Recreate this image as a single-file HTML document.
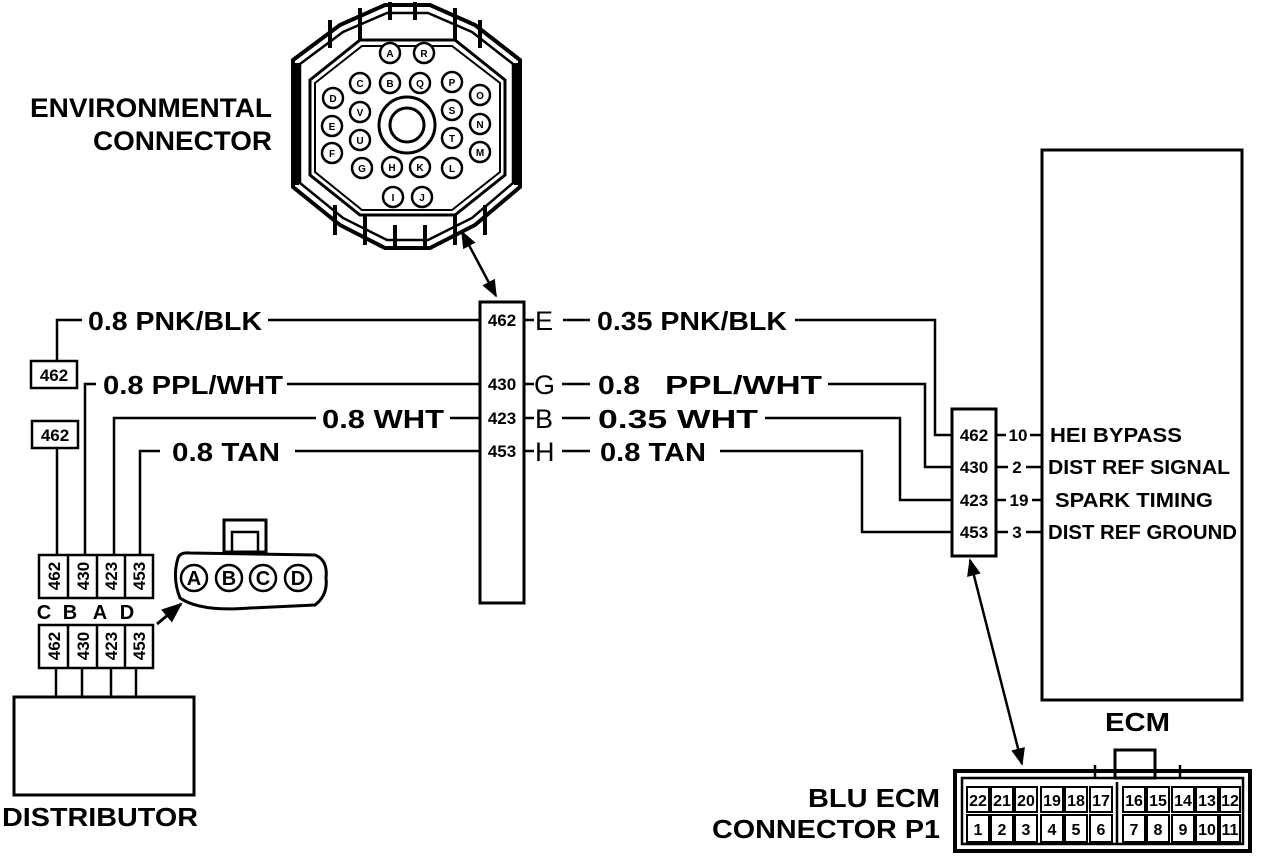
<!DOCTYPE html>
<html><head><meta charset="utf-8"><style>
html,body{margin:0;padding:0;background:#fff;}
svg{display:block;}
text{font-family:"Liberation Sans",Arial,sans-serif;font-weight:bold;fill:#000;}
</style></head><body>
<svg width="1280" height="856" viewBox="0 0 1280 856" xmlns="http://www.w3.org/2000/svg">
<defs>
<marker id="ah" viewBox="0 0 10 10" refX="9" refY="5" markerWidth="7" markerHeight="7" orient="auto-start-reverse"><path d="M0,1 L10,5 L0,9 z" fill="#000"/></marker>
</defs>
<g fill="none" stroke="#000" stroke-width="3">
<polygon points="293,60 340,25 385,5 430,5 475,25 520,60 520,187 475,225 430,248 385,248 340,225 293,187" stroke-width="4"/>
<polygon points="300,64 343,32 387,13 428,13 472,32 513,64 513,183 472,218 428,240 387,240 343,218 300,183" stroke-width="2.5"/>
<polygon points="310,80 360,40 455,40 505,80 505,175 455,215 360,215 310,175" stroke-width="3"/>
<polygon points="315,83 362,46 452,46 500,83 500,172 452,210 362,210 315,172" stroke-width="2"/>
<g stroke-width="4">
<line x1="297" y1="63" x2="297" y2="185"/><line x1="516" y1="63" x2="516" y2="185"/>
<line x1="330" y1="20" x2="330" y2="48"/><line x1="360" y1="8" x2="360" y2="40"/><line x1="390" y1="2" x2="390" y2="20"/><line x1="415" y1="2" x2="415" y2="20"/><line x1="455" y1="8" x2="455" y2="40"/><line x1="480" y1="20" x2="480" y2="48"/>
<line x1="335" y1="205" x2="335" y2="235"/><line x1="365" y1="215" x2="365" y2="245"/><line x1="395" y1="225" x2="395" y2="250"/><line x1="425" y1="225" x2="425" y2="250"/><line x1="455" y1="215" x2="455" y2="245"/><line x1="485" y1="205" x2="485" y2="235"/>
</g>
<circle cx="407" cy="125" r="28"/><circle cx="407" cy="125" r="17"/>
</g>
<g fill="#fff" stroke="#000" stroke-width="2.5">
<circle cx="390" cy="53" r="10"/><circle cx="424" cy="53" r="10"/>
<circle cx="360" cy="83" r="10"/><circle cx="390" cy="83" r="10"/><circle cx="420" cy="83" r="10"/><circle cx="452" cy="82" r="10"/>
<circle cx="333" cy="98" r="10"/><circle cx="480" cy="95" r="10"/>
<circle cx="360" cy="112" r="10"/><circle cx="452" cy="110" r="10"/>
<circle cx="332" cy="126" r="10"/><circle cx="480" cy="124" r="10"/>
<circle cx="360" cy="140" r="10"/><circle cx="452" cy="138" r="10"/>
<circle cx="332" cy="153" r="10"/><circle cx="480" cy="152" r="10"/>
<circle cx="362" cy="168" r="10"/><circle cx="392" cy="167" r="10"/><circle cx="420" cy="167" r="10"/><circle cx="452" cy="168" r="10"/>
<circle cx="393" cy="197" r="10"/><circle cx="422" cy="197" r="10"/>
</g>
<g font-size="10" text-anchor="middle">
<text x="390" y="57">A</text><text x="424" y="57">R</text>
<text x="360" y="87">C</text><text x="390" y="87">B</text><text x="420" y="87">Q</text><text x="452" y="86">P</text>
<text x="333" y="102">D</text><text x="480" y="99">O</text>
<text x="360" y="116">V</text><text x="452" y="114">S</text>
<text x="332" y="130">E</text><text x="480" y="128">N</text>
<text x="360" y="144">U</text><text x="452" y="142">T</text>
<text x="332" y="157">F</text><text x="480" y="156">M</text>
<text x="362" y="172">G</text><text x="392" y="171">H</text><text x="420" y="171">K</text><text x="452" y="172">L</text>
<text x="393" y="201">I</text><text x="422" y="201">J</text>
</g>
<text x="30" y="117" font-size="27" textLength="242" lengthAdjust="spacingAndGlyphs">ENVIRONMENTAL</text>
<text x="93" y="150" font-size="27" textLength="179" lengthAdjust="spacingAndGlyphs">CONNECTOR</text>

<g stroke="#000" stroke-width="2.5" fill="none">
<line x1="462" y1="232" x2="496" y2="296" marker-start="url(#ah)" marker-end="url(#ah)"/>
<rect x="480" y="302" width="44" height="301" stroke-width="3"/>
<polyline points="57,360 57,320 82,320"/><line x1="268" y1="320" x2="480" y2="320"/>
<polyline points="85,555 85,384 96,384"/><line x1="287" y1="384" x2="480" y2="384"/>
<polyline points="114,555 114,418 316,418"/><line x1="450" y1="418" x2="480" y2="418"/>
<polyline points="140,555 140,451 160,451"/><line x1="295" y1="451" x2="480" y2="451"/>
<line x1="57" y1="448" x2="57" y2="555"/>
<line x1="525" y1="320" x2="534" y2="320"/><line x1="563" y1="320" x2="590" y2="320"/>
<line x1="525" y1="384" x2="534" y2="384"/><line x1="562" y1="384" x2="590" y2="384"/>
<line x1="525" y1="418" x2="534" y2="418"/><line x1="562" y1="418" x2="590" y2="418"/>
<line x1="525" y1="451" x2="534" y2="451"/><line x1="562" y1="451" x2="590" y2="451"/>
<polyline points="795,320 935,320 935,435 952,435"/>
<polyline points="828,384 925,384 925,467 952,467"/>
<polyline points="765,418 900,418 900,500 952,500"/>
<polyline points="720,451 862,451 862,532 952,532"/>
<rect x="952" y="409" width="44" height="147" stroke-width="3"/>
<line x1="996" y1="435" x2="1006" y2="435"/><line x1="1030" y1="435" x2="1042" y2="435"/>
<line x1="996" y1="467" x2="1008" y2="467"/><line x1="1026" y1="467" x2="1042" y2="467"/>
<line x1="996" y1="500" x2="1006" y2="500"/><line x1="1032" y1="500" x2="1042" y2="500"/>
<line x1="996" y1="532" x2="1008" y2="532"/><line x1="1026" y1="532" x2="1042" y2="532"/>
<rect x="1042" y="150" width="200" height="550" stroke-width="3"/>
<line x1="970" y1="560" x2="1022" y2="764" marker-start="url(#ah)" marker-end="url(#ah)"/>
<rect x="31" y="361" width="46" height="27"/>
<rect x="32" y="421" width="46" height="27"/>
<rect x="39" y="555" width="114" height="43"/>
<line x1="68" y1="555" x2="68" y2="598"/><line x1="97" y1="555" x2="97" y2="598"/><line x1="125" y1="555" x2="125" y2="598"/>
<rect x="39" y="625" width="114" height="43"/>
<line x1="68" y1="625" x2="68" y2="668"/><line x1="97" y1="625" x2="97" y2="668"/><line x1="125" y1="625" x2="125" y2="668"/>
<line x1="56" y1="668" x2="56" y2="698"/><line x1="82" y1="668" x2="82" y2="698"/><line x1="111" y1="668" x2="111" y2="698"/><line x1="136" y1="668" x2="136" y2="698"/>
<rect x="14" y="697" width="180" height="98" stroke-width="3"/>
<path d="M178,558 Q172,578 180,598 Q200,612 250,608 L315,605 Q328,595 326,578 Q328,560 315,555 L190,553 Q180,552 178,558 z" stroke-width="3"/>
<rect x="224" y="520" width="42" height="32" stroke-width="3"/>
<rect x="232" y="532" width="26" height="20"/>
<circle cx="194" cy="578" r="13"/><circle cx="229" cy="578" r="13"/><circle cx="263" cy="578" r="13"/><circle cx="298" cy="578" r="13"/>
<line x1="157" y1="624" x2="181" y2="604" marker-end="url(#ah)" stroke-width="3"/>
<rect x="955" y="771" width="295" height="80" stroke-width="4"/>
<rect x="962" y="778" width="281" height="66"/>
<rect x="1115" y="750" width="40" height="28" stroke-width="3"/>
<line x1="1095" y1="765" x2="1095" y2="778"/><line x1="1180" y1="765" x2="1180" y2="778"/>
<line x1="1117" y1="782" x2="1117" y2="844"/>
</g>
<g fill="none" stroke="#000" stroke-width="2">
<rect x="967" y="787" width="22" height="25"/><rect x="991" y="787" width="22" height="25"/><rect x="1015" y="787" width="22" height="25"/><rect x="1041" y="787" width="22" height="25"/><rect x="1065" y="787" width="22" height="25"/><rect x="1090" y="787" width="22" height="25"/>
<rect x="1123" y="787" width="22" height="25"/><rect x="1147" y="787" width="22" height="25"/><rect x="1172" y="787" width="22" height="25"/><rect x="1196" y="787" width="22" height="25"/><rect x="1220" y="787" width="20" height="25"/>
<rect x="967" y="815" width="22" height="27"/><rect x="991" y="815" width="22" height="27"/><rect x="1015" y="815" width="22" height="27"/><rect x="1041" y="815" width="22" height="27"/><rect x="1065" y="815" width="22" height="27"/><rect x="1090" y="815" width="22" height="27"/>
<rect x="1123" y="815" width="22" height="27"/><rect x="1147" y="815" width="22" height="27"/><rect x="1172" y="815" width="22" height="27"/><rect x="1196" y="815" width="22" height="27"/><rect x="1220" y="815" width="20" height="27"/>
</g>
<g font-size="16" text-anchor="middle">
<text x="978" y="806">22</text><text x="1002" y="806">21</text><text x="1026" y="806">20</text><text x="1052" y="806">19</text><text x="1076" y="806">18</text><text x="1101" y="806">17</text>
<text x="1134" y="806">16</text><text x="1158" y="806">15</text><text x="1183" y="806">14</text><text x="1207" y="806">13</text><text x="1230" y="806">12</text>
<text x="978" y="835">1</text><text x="1002" y="835">2</text><text x="1026" y="835">3</text><text x="1052" y="835">4</text><text x="1076" y="835">5</text><text x="1101" y="835">6</text>
<text x="1134" y="835">7</text><text x="1158" y="835">8</text><text x="1183" y="835">9</text><text x="1207" y="835">10</text><text x="1230" y="835">11</text>
</g>
<g font-size="26" lengthAdjust="spacingAndGlyphs">
<text x="88" y="330" textLength="174" lengthAdjust="spacingAndGlyphs">0.8 PNK/BLK</text>
<text x="103" y="394" textLength="180" lengthAdjust="spacingAndGlyphs">0.8 PPL/WHT</text>
<text x="322" y="428" textLength="122" lengthAdjust="spacingAndGlyphs">0.8 WHT</text>
<text x="172" y="461" textLength="108" lengthAdjust="spacingAndGlyphs">0.8 TAN</text>
<text x="597" y="330" textLength="190" lengthAdjust="spacingAndGlyphs">0.35 PNK/BLK</text>
<text x="598" y="394" textLength="42" lengthAdjust="spacingAndGlyphs">0.8</text>
<text x="665" y="394" textLength="157" lengthAdjust="spacingAndGlyphs">PPL/WHT</text>
<text x="598" y="428" textLength="160" lengthAdjust="spacingAndGlyphs">0.35 WHT</text>
<text x="600" y="461" textLength="106" lengthAdjust="spacingAndGlyphs">0.8 TAN</text>
</g>
<g font-size="27">
<text x="535" y="330" style="font-weight:normal">E</text>
<text x="534" y="394" style="font-weight:normal">G</text>
<text x="535" y="428" style="font-weight:normal">B</text>
<text x="535" y="461" style="font-weight:normal">H</text>
</g>
<g font-size="17" text-anchor="middle">
<text x="502" y="326">462</text><text x="502" y="390">430</text><text x="502" y="424">423</text><text x="502" y="457">453</text>
<text x="974" y="441">462</text><text x="974" y="473">430</text><text x="974" y="506">423</text><text x="974" y="538">453</text>
<text x="1018" y="441">10</text><text x="1017" y="473">2</text><text x="1019" y="506">19</text><text x="1017" y="538">3</text>
<text x="54" y="381">462</text><text x="55" y="441">462</text>
</g>
<g font-size="20">
<text x="1050" y="442" textLength="132" lengthAdjust="spacingAndGlyphs">HEI BYPASS</text>
<text x="1048" y="474" textLength="182" lengthAdjust="spacingAndGlyphs">DIST REF SIGNAL</text>
<text x="1055" y="507" textLength="158" lengthAdjust="spacingAndGlyphs">SPARK TIMING</text>
<text x="1048" y="539" textLength="189" lengthAdjust="spacingAndGlyphs">DIST REF GROUND</text>
</g>
<text x="1105" y="731" font-size="26" textLength="65" lengthAdjust="spacingAndGlyphs">ECM</text>
<text x="808" y="807" font-size="26" textLength="132" lengthAdjust="spacingAndGlyphs">BLU ECM</text>
<text x="712" y="838" font-size="26" textLength="228" lengthAdjust="spacingAndGlyphs">CONNECTOR P1</text>
<text x="2" y="826" font-size="26" textLength="196" lengthAdjust="spacingAndGlyphs">DISTRIBUTOR</text>
<g font-size="20" text-anchor="middle">
<text x="194" y="585">A</text><text x="229" y="585">B</text><text x="263" y="585">C</text><text x="298" y="585">D</text>
<text x="44" y="619">C</text><text x="70" y="619">B</text><text x="100" y="619">A</text><text x="127" y="619">D</text>
</g>
<g font-size="17" text-anchor="middle">
<text transform="translate(60,576) rotate(-90)">462</text>
<text transform="translate(89,576) rotate(-90)">430</text>
<text transform="translate(117,576) rotate(-90)">423</text>
<text transform="translate(145,576) rotate(-90)">453</text>
<text transform="translate(60,646) rotate(-90)">462</text>
<text transform="translate(89,646) rotate(-90)">430</text>
<text transform="translate(117,646) rotate(-90)">423</text>
<text transform="translate(145,646) rotate(-90)">453</text>
</g>
</svg>
</body></html>
